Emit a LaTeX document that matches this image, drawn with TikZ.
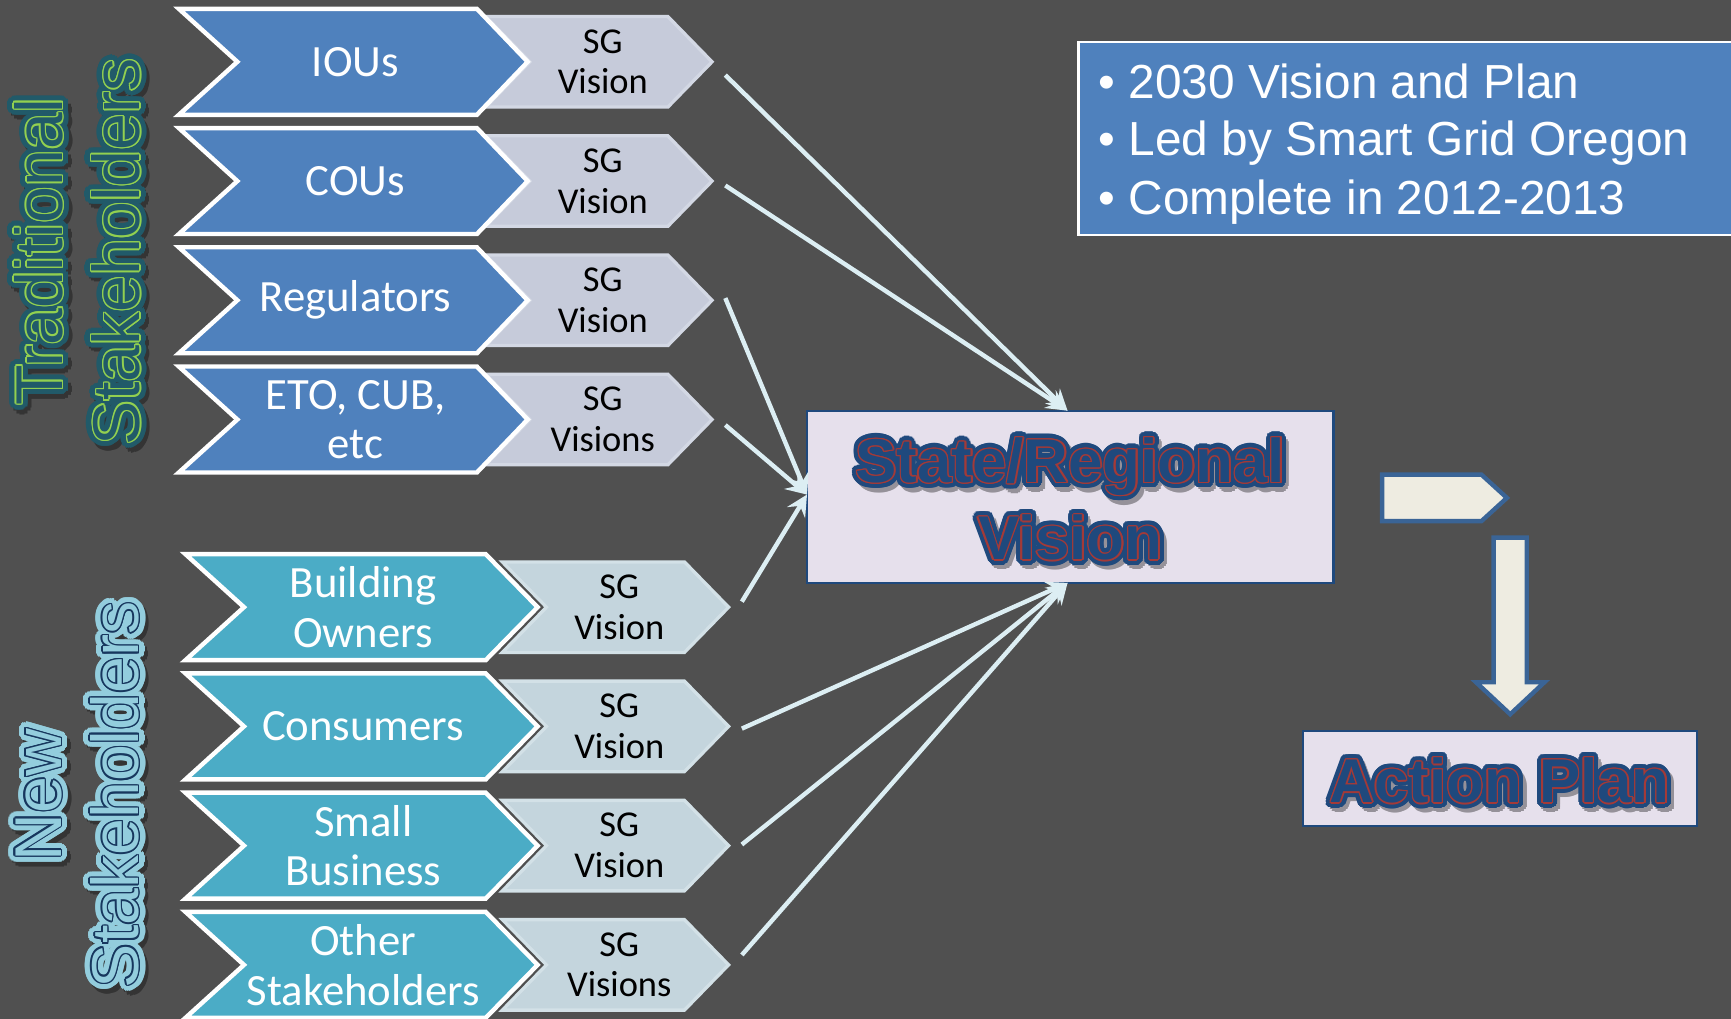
\documentclass[tikz,border=0pt]{standalone}
\usepackage{fontspec}
\setmainfont{Carlito}
\newfontfamily\arialfont{Liberation Sans}
\usetikzlibrary{calc,arrows.meta}

\definecolor{bgC}{HTML}{505050}
\definecolor{blueC}{HTML}{4F81BD}
\definecolor{tealC}{HTML}{4BACC6}
\definecolor{sgTrad}{HTML}{C6CBDA}
\definecolor{sgTradEdge}{HTML}{D3D8E4}
\definecolor{sgNew}{HTML}{C4D5DD}
\definecolor{sgNewEdge}{HTML}{D3E1E7}
\definecolor{flowC}{HTML}{DCEEF3}
\definecolor{boxFill}{HTML}{E6E0EC}
\definecolor{navyC}{HTML}{1F497D}
\definecolor{redC}{HTML}{A33A38}
\definecolor{pentFill}{HTML}{EEECE1}
\definecolor{pentEdge}{HTML}{3A6496}
\definecolor{tradOuter}{HTML}{215A69}
\definecolor{tradLine}{HTML}{92D050}
\definecolor{newOuter}{HTML}{93CDDD}
\definecolor{newLine}{HTML}{17375E}

\tikzset{
  chevtrad/.style={fill=blueC, draw=white, line width=4pt, line join=miter},
  chevnew/.style={fill=tealC, draw=white, line width=4pt, line join=miter},
  sgtrad/.style={fill=sgTrad, draw=sgTradEdge, line width=3pt},
  sgnew/.style={fill=sgNew, draw=sgNewEdge, line width=3pt},
  chevtext/.style={text=white, align=center, inner sep=0pt,
    font=\fontsize{40.5}{45}\selectfont},
  sgtext/.style={text=black, align=center, inner sep=0pt,
    font=\fontsize{33}{37}\selectfont},
  flow/.style={draw=flowC, line width=4pt,
    -{Stealth[length=19pt,width=19pt,inset=7pt]}},
  sidefont/.style={align=center, inner sep=0pt,
    font=\arialfont\fontsize{60}{70}\selectfont},
  headfont/.style={align=center, inner sep=0pt,
    font=\arialfont\bfseries\fontsize{56}{70}\selectfont},
  panel/.style={fill=boxFill, draw=navyC, line width=2pt},
  infotext/.style={text=white, inner sep=0pt, anchor=base west,
    font=\arialfont\fontsize{43.3}{48}\selectfont},
  bigarrow/.style={fill=pentFill, draw=pentEdge, line width=4pt, line join=miter},
}

% outlined lettering: soft shadow, wide halo, thin contour line, solid letters
% #1 name, #2 position, #3 rotation, #4 halo colour, #5 line colour,
% #6 letter colour, #7 text, #8 font style, #9 halo radius
\newcommand\glowtext[9]{%
  \begin{scope}[transparency group, opacity=0.35]
    \foreach \a in {0,30,...,330}
      \node[#8, rotate=#3, text=black] at ($(#2)+(3,4)+(\a:#9)$) {#7};
  \end{scope}
  \foreach \a in {0,15,...,345}
    \node[#8, rotate=#3, text=#4] at ($(#2)+(\a:#9)$) {#7};
  \foreach \a in {0,30,...,330}
    \node[#8, rotate=#3, text=#5] at ($(#2)+(\a:1.3)$) {#7};
  \node[#8, rotate=#3, text=#6] (#1) at (#2) {#7};
}

\begin{document}
\begin{tikzpicture}[x=1pt, y=-1pt]
  \fill[bgC] (0,0) rectangle (1568,923);
  \useasboundingbox (0,0) rectangle (1568,923);

  % traditional stakeholder rows
  \foreach \cy/\lab/\sg/\n in {56/IOUs/Vision/1, 164/COUs/Vision/2,
      272/Regulators/Vision/3, 380/{ETO, CUB,\\etc}/Visions/4}{
    \draw[sgtrad] (440,\cy-41) -- (605,\cy-41) -- (645,\cy) -- (605,\cy+41)
      -- (440,\cy+41) -- (480,\cy) -- cycle;
    \node[sgtext] (sg\n) at (546,\cy) {SG\\\sg};
    \draw[chevtrad] (162,\cy-48) -- (432,\cy-48) -- (478,\cy) -- (432,\cy+48)
      -- (162,\cy+48) -- (215,\cy) -- cycle;
    \node[chevtext] (st\n) at (322,\cy) {\lab};
  }

  % new stakeholder rows
  \foreach \cy/\lab/\sg/\n in {550/{Building\\Owners}/Vision/5,
      658/Consumers/Vision/6, 766/{Small\\Business}/Vision/7,
      874/{Other\\Stakeholders}/Visions/8}{
    \draw[sgnew] (455,\cy-41) -- (620,\cy-41) -- (660,\cy) -- (620,\cy+41)
      -- (455,\cy+41) -- (495,\cy) -- cycle;
    \node[sgtext] (sg\n) at (561,\cy) {SG\\\sg};
    \draw[chevnew] (168,\cy-48) -- (440,\cy-48) -- (487,\cy) -- (440,\cy+48)
      -- (168,\cy+48) -- (221,\cy) -- cycle;
    \node[chevtext] (st\n) at (329,\cy) {\lab};
  }

  % group labels
  \glowtext{tradlab}{70,228}{90}{tradOuter}{tradLine}{tradOuter}{Traditional\\Stakeholders}{sidefont}{6}
  \glowtext{newlab}{70,720}{90}{newOuter}{newLine}{newOuter}{New\\Stakeholders}{sidefont}{6}

  % central vision box
  \node[panel, minimum width=477pt, minimum height=156pt] (vision) at (969.5,450) {};
  \glowtext{visiontext}{969.5,452}{0}{navyC}{redC}{navyC}{State/Regional\\Vision}{headfont}{5}

  % arrow starts and landing points
  \coordinate (s1) at (657,68);
  \coordinate (s2) at (657,168);
  \coordinate (s3) at (657,270);
  \coordinate (s4) at (657,385);
  \coordinate (s5) at (672,545);
  \coordinate (s6) at (672,660);
  \coordinate (s7) at (672,765);
  \coordinate (s8) at (672,865);
  \coordinate (vt) at (967,372);
  \coordinate (vl) at (731,448);
  \coordinate (vb) at (967,528);

  \draw[flow] (s1) -- (vt);
  \draw[flow] (s2) -- (vt);
  \draw[flow] (s3) -- (vl);
  \draw[flow] (s4) -- (vl);
  \draw[flow] (s5) -- (vl);
  \draw[flow] (s6) -- (vb);
  \draw[flow] (s7) -- (vb);
  \draw[flow] (s8) -- (vb);

  % info panel
  \draw[fill=blueC, draw=white, line width=2pt] (977,38) rectangle (1580,213);
  \node[infotext] (i1) at (995,89) {• 2030 Vision and Plan};
  \node[infotext] (i2) at (995,141) {• Led by Smart Grid Oregon};
  \node[infotext] (i3) at (995,194) {• Complete in 2012-2013};

  % next-step arrows
  \draw[bigarrow] (1252,430) -- (1342,430) -- (1365,451) -- (1342,472)
    -- (1252,472) -- cycle;
  \draw[bigarrow] (1353,487) -- (1383,487) -- (1383,618) -- (1399,618)
    -- (1368,647) -- (1337,618) -- (1353,618) -- cycle;

  % action plan box
  \node[panel, minimum width=357pt, minimum height=86pt] (plan) at (1358.5,705) {};
  \glowtext{plantext}{1358.5,707}{0}{navyC}{redC}{navyC}{Action Plan}{headfont}{5}
\end{tikzpicture}
\end{document}
